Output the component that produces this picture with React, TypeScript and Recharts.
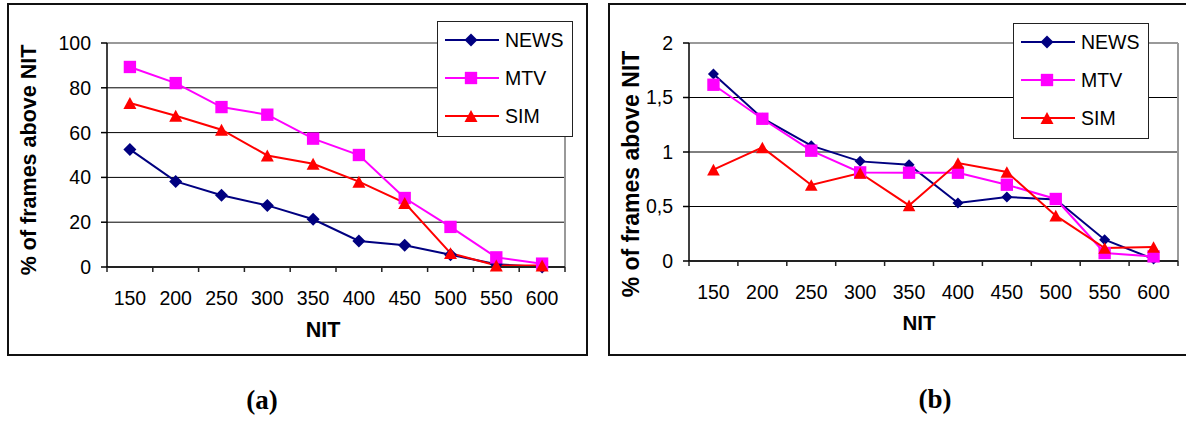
import React from 'react';
import { LineChart, Line, XAxis, YAxis, CartesianGrid, ReferenceLine, Legend } from 'recharts';

const categories = [150, 200, 250, 300, 350, 400, 450, 500, 550, 600];

const newsA = [52.5, 38.2, 32, 27.5, 21.3, 11.6, 9.7, 5.5, 1.2, 0];
const mtvA = [89.3, 82.1, 71.4, 68, 57.3, 50, 30.8, 17.9, 4.3, 1.5];
const simA = [73.2, 67.5, 61.3, 49.8, 46.1, 38.1, 28.6, 6.2, 0.7, 0.7];

const newsB = [1.716, 1.31, 1.058, 0.914, 0.883, 0.532, 0.587, 0.565, 0.195, 0.018];
const mtvB = [1.617, 1.305, 1.012, 0.813, 0.81, 0.81, 0.7, 0.569, 0.073, 0.042];
const simB = [0.838, 1.042, 0.697, 0.807, 0.51, 0.899, 0.816, 0.416, 0.119, 0.128];

const yTicksA = [0, 20, 40, 60, 80, 100];
const yTicksB = [0, 0.5, 1, 1.5, 2];

const seriesNames = ['NEWS', 'MTV', 'SIM'];
const seriesColors = ['#000080', '#FF00FF', '#FF0000'];
const seriesShapes = ['diamond', 'square', 'triangle'];

const SANS = '"Liberation Sans", Arial, sans-serif';
const SERIF = '"Liberation Serif", "Times New Roman", serif';

function buildData(news: number[], mtv: number[], sim: number[]) {
  return categories.map((c, i) => ({ nit: c, NEWS: news[i], MTV: mtv[i], SIM: sim[i] }));
}

const dataA = buildData(newsA, mtvA, simA);
const dataB = buildData(newsB, mtvB, simB);

function markerPath(shape: string, cx: number, cy: number, s: number) {
  if (shape === 'diamond') {
    return `M${cx},${cy - s}L${cx + s},${cy}L${cx},${cy + s}L${cx - s},${cy}Z`;
  }
  if (shape === 'square') {
    const h = s * 0.95;
    return `M${cx - h},${cy - h}L${cx + h},${cy - h}L${cx + h},${cy + h}L${cx - h},${cy + h}Z`;
  }
  const hh = s * 0.92;
  return `M${cx},${cy - hh}L${cx + s},${cy + hh}L${cx - s},${cy + hh}Z`;
}

function makeDot(shape: string, color: string, s: number) {
  return (p: any) => {
    if (p.cx == null || p.cy == null) return <g key={`d-${p.index}`} />;
    return <path key={`d-${shape}-${p.index}`} d={markerPath(shape, p.cx, p.cy, s)} fill={color} stroke="none" />;
  };
}

const LegendBox = () => (
  <div
    style={{
      width: 136,
      height: 116,
      boxSizing: 'border-box',
      border: '1.5px solid #222',
      background: '#fff',
    }}
  >
    <svg width={133} height={113} style={{ display: 'block' }}>
      {seriesNames.map((name, i) => {
        const cy = 18 + i * 38;
        return (
          <g key={name}>
            <line x1={7} x2={61} y1={cy} y2={cy} stroke={seriesColors[i]} strokeWidth={2} />
            <path d={markerPath(seriesShapes[i], 33, cy, 6.5)} fill={seriesColors[i]} />
            <text x={67} y={cy} dy="0.355em" fontFamily={SANS} fontSize={19.5} fill="#000">
              {name}
            </text>
          </g>
        );
      })}
    </svg>
  </div>
);

type PanelProps = {
  data: any[];
  width: number;
  height: number;
  marginLeft: number;
  marginRight: number;
  marginBottom: number;
  xAxisHeight: number;
  yDomain: [number, number];
  yTicks: number[];
  yFormat: (v: number) => string;
  legendLeft: number;
  legendTop: number;
  markerSizes: number[];
};

const Y_AXIS_W = 60;
const dataStep = categories[1] - categories[0];
const xMin = categories[0] - dataStep / 2;
const xMax = categories[categories.length - 1] + dataStep / 2;
const xBoundaries = [...categories.map((c) => c - dataStep / 2), xMax];

function Panel(props: PanelProps) {
  const { data, width, height, marginLeft, marginRight, marginBottom, xAxisHeight, yDomain, yTicks, yFormat, legendLeft, legendTop, markerSizes } = props;
  const plotW = width - marginLeft - marginRight - Y_AXIS_W;
  const halfPx = plotW / categories.length / 2;

  const XTick = (tp: any) => {
    const v = tp.payload.value + dataStep / 2;
    if (v > categories[categories.length - 1]) return <g />;
    return (
      <text x={tp.x + halfPx} y={tp.y} dy="0.355em" textAnchor="middle" fontFamily={SANS} fontSize={19.5} fill="#000">
        {v}
      </text>
    );
  };

  return (
    <LineChart
      width={width}
      height={height}
      data={data}
      margin={{ top: 43, right: marginRight, left: marginLeft, bottom: marginBottom }}
    >
      <CartesianGrid vertical={false} stroke="#000" strokeWidth={1} />
      <XAxis
        type="number"
        dataKey="nit"
        domain={[xMin, xMax]}
        ticks={xBoundaries}
        interval={0}
        height={xAxisHeight}
        tick={XTick}
        tickSize={5}
        tickMargin={26}
        tickLine={{ stroke: '#222', strokeWidth: 1.5 }}
        axisLine={{ stroke: '#222', strokeWidth: 2 }}
      />
      <YAxis
        width={Y_AXIS_W}
        domain={yDomain}
        ticks={yTicks}
        interval={0}
        tickFormatter={yFormat}
        tickSize={6}
        tickMargin={10}
        tick={{ fill: '#000', fontSize: 19.5, fontFamily: SANS }}
        tickLine={{ stroke: '#000', strokeWidth: 1.5 }}
        axisLine={{ stroke: '#000', strokeWidth: 1.5 }}
      />
      <ReferenceLine y={yDomain[1]} stroke="#999" strokeWidth={2} />
      <ReferenceLine x={xMax} stroke="#999" strokeWidth={2} />
      <Legend
        layout="vertical"
        align="center"
        verticalAlign="middle"
        content={<LegendBox />}
        wrapperStyle={{ left: legendLeft, top: legendTop, width: 136, height: 116 }}
      />
      {seriesNames.map((name, i) => (
        <Line
          key={name}
          type="linear"
          dataKey={name}
          stroke={seriesColors[i]}
          strokeWidth={2}
          dot={makeDot(seriesShapes[i], seriesColors[i], markerSizes[i])}
          activeDot={false}
          isAnimationActive={false}
        />
      ))}
    </LineChart>
  );
}

export default function App() {
  return (
    <div
      style={{
        position: 'absolute',
        left: 0,
        top: 0,
        width: 1186,
        height: 421,
        overflow: 'hidden',
        background: '#fff',
        fontFamily: SANS,
      }}
    >
      <div style={{ position: 'absolute', left: 7, top: 3, width: 581, height: 353, boxSizing: 'border-box', border: '2px solid #111' }} />
      <div style={{ position: 'absolute', left: 608, top: 3, width: 600, height: 353, boxSizing: 'border-box', border: '2px solid #111' }} />

      <div style={{ position: 'absolute', left: 0, top: 0 }}>
        <Panel
          data={dataA}
          width={600}
          height={340}
          marginLeft={47}
          marginRight={35}
          marginBottom={40}
          xAxisHeight={33}
          yDomain={[0, 100]}
          yTicks={yTicksA}
          yFormat={(v) => String(v)}
          legendLeft={437}
          legendTop={21}
          markerSizes={[6.5, 6.5, 6.5]}
        />
      </div>
      <div style={{ position: 'absolute', left: 600, top: 0 }}>
        <Panel
          data={dataB}
          width={586}
          height={340}
          marginLeft={29}
          marginRight={8}
          marginBottom={40}
          xAxisHeight={39}
          yDomain={[0, 2]}
          yTicks={yTicksB}
          yFormat={(v) => String(v).replace('.', ',')}
          legendLeft={413}
          legendTop={23}
          markerSizes={[5.5, 6.5, 6.3]}
        />
      </div>

      <svg width={1186} height={421} style={{ position: 'absolute', left: 0, top: 0, pointerEvents: 'none' }}>
        <text x={36} y={160} textAnchor="middle" transform="rotate(-90 36 160)" fontFamily={SANS} fontWeight="bold" fontSize={21.5} fill="#000">
          % of frames above NIT
        </text>
        <text x={639} y={174} textAnchor="middle" transform="rotate(-90 639 174)" fontFamily={SANS} fontWeight="bold" fontSize={23} fill="#000">
          % of frames above NIT
        </text>
        <text x={323} y={330} textAnchor="middle" dominantBaseline="central" fontFamily={SANS} fontWeight="bold" fontSize={21.5} fill="#000">
          NIT
        </text>
        <text x={919} y={322} textAnchor="middle" dominantBaseline="central" fontFamily={SANS} fontWeight="bold" fontSize={20.5} fill="#000">
          NIT
        </text>
        <text x={262} y={400} textAnchor="middle" dominantBaseline="central" fontFamily={SERIF} fontWeight="bold" fontSize={27} fill="#000">
          (a)
        </text>
        <text x={935} y={399} textAnchor="middle" dominantBaseline="central" fontFamily={SERIF} fontWeight="bold" fontSize={27} fill="#000">
          (b)
        </text>
      </svg>
    </div>
  );
}
